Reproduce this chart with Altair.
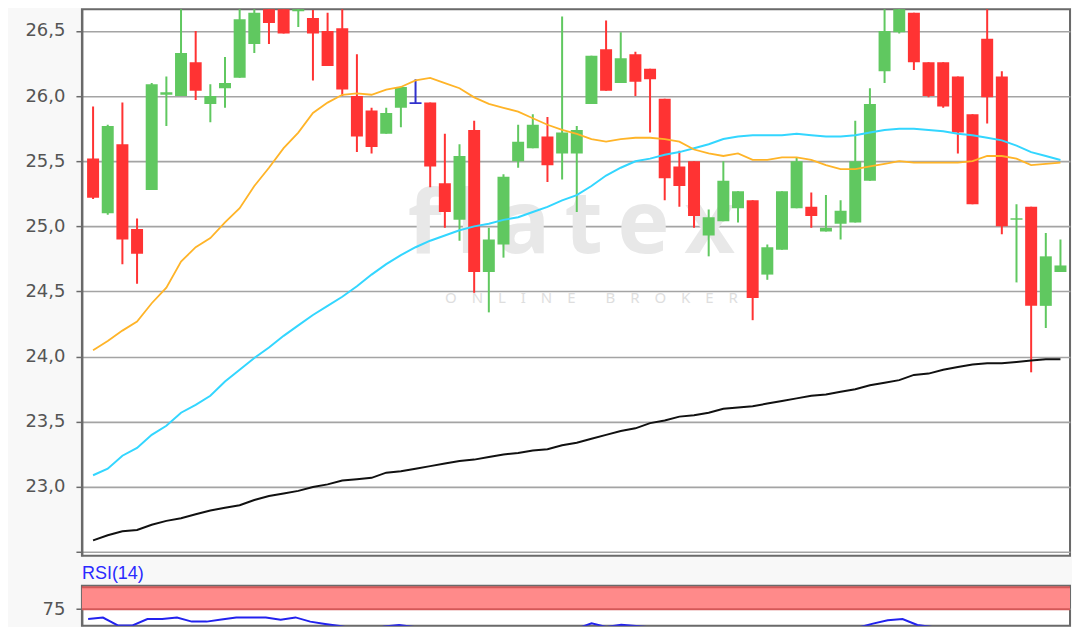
import altair as alt
import numpy as np
import pandas as pd

# ---------------- data ----------------
OPEN = [25.52, 25.10, 25.63, 24.98, 25.28, 26.01, 26.00, 26.26, 25.94, 26.06,
        26.14, 26.40, 26.78, 26.75, 26.65, 26.60, 26.50, 26.52, 26.00, 25.89,
        25.71, 25.91, 25.94, 25.95, 25.33, 25.05, 25.74, 24.65, 24.86, 25.50,
        25.60, 25.69, 25.56, 25.56, 25.94, 26.36, 26.10, 26.32, 26.21, 25.98,
        25.46, 25.50, 24.93, 25.04, 25.14, 25.20, 24.63, 24.82, 25.14, 25.15,
        24.96, 25.02, 25.03, 25.35, 26.19, 26.49, 26.64, 26.26, 26.26, 26.15,
        25.86, 26.44, 26.15, 25.05, 25.15, 24.39, 24.65]
HIGH = [25.92, 25.78, 25.95, 25.06, 26.10, 26.15, 26.80, 26.50, 26.09, 26.30,
        26.80, 26.78, 26.85, 26.80, 26.76, 26.66, 26.64, 26.76, 26.32, 25.91,
        25.91, 26.07, 26.13, 25.95, 25.71, 25.63, 25.81, 24.99, 25.40, 25.78,
        25.86, 25.84, 26.61, 25.77, 26.31, 26.58, 26.49, 26.34, 26.21, 25.98,
        25.58, 25.50, 25.13, 25.50, 25.27, 25.20, 24.86, 25.27, 25.53, 25.26,
        25.24, 25.20, 25.81, 26.06, 26.78, 26.76, 26.64, 26.26, 26.26, 26.15,
        25.86, 26.80, 26.19, 25.17, 25.15, 24.95, 24.90]
LOW = [25.21, 25.09, 24.71, 24.56, 25.28, 25.77, 26.00, 25.97, 25.80, 25.91,
       26.14, 26.33, 26.40, 26.48, 26.53, 26.12, 26.23, 26.00, 25.57, 25.56,
       25.71, 25.76, 25.94, 25.30, 24.99, 24.89, 24.49, 24.34, 24.76, 25.45,
       25.60, 25.34, 25.36, 25.11, 25.94, 26.04, 26.10, 26.00, 25.72, 25.20,
       25.15, 24.99, 24.77, 25.04, 25.03, 24.28, 24.59, 24.82, 25.14, 24.99,
       24.96, 24.90, 25.03, 25.35, 26.10, 26.48, 26.20, 25.99, 25.91, 25.56,
       25.17, 25.79, 24.94, 24.57, 23.88, 24.22, 24.65]
CLOSE = [25.22, 25.77, 24.90, 24.79, 26.09, 26.03, 26.33, 26.04, 26.00, 26.10,
         26.59, 26.64, 26.56, 26.48, 26.72, 26.48, 26.23, 26.05, 25.69, 25.61,
         25.87, 26.07, 25.94, 25.46, 25.11, 25.54, 24.65, 24.90, 25.38, 25.65,
         25.78, 25.47, 25.72, 25.74, 26.31, 26.04, 26.29, 26.11, 26.13, 25.37,
         25.31, 25.08, 25.07, 25.35, 25.27, 24.45, 24.84, 25.27, 25.50, 25.08,
         24.99, 25.12, 25.50, 25.94, 26.50, 26.71, 26.26, 26.00, 25.92, 25.72,
         25.17, 25.99, 25.00, 25.06, 24.39, 24.77, 24.70]
SMA20 = [24.05, 24.12, 24.20, 24.27, 24.41, 24.53, 24.73, 24.84, 24.91, 25.03,
         25.14, 25.31, 25.45, 25.60, 25.72, 25.87, 25.95, 26.01, 26.02, 26.01,
         26.05, 26.07, 26.12, 26.14, 26.10, 26.06, 25.99, 25.94, 25.91, 25.88,
         25.83, 25.78, 25.74, 25.71, 25.67, 25.65, 25.67, 25.68, 25.68, 25.67,
         25.65, 25.59, 25.56, 25.54, 25.56, 25.51, 25.51, 25.53, 25.53, 25.51,
         25.47, 25.44, 25.44, 25.46, 25.48, 25.50, 25.49, 25.49, 25.49, 25.49,
         25.50, 25.54, 25.54, 25.52, 25.47, 25.48, 25.49]
SMA50 = [23.09, 23.14, 23.24, 23.30, 23.40, 23.47, 23.57, 23.63, 23.70, 23.81,
         23.90, 23.99, 24.07, 24.16, 24.24, 24.32, 24.39, 24.46, 24.54, 24.63,
         24.71, 24.78, 24.84, 24.89, 24.93, 24.97, 25.00, 25.02, 25.05, 25.07,
         25.11, 25.15, 25.20, 25.24, 25.31, 25.39, 25.45, 25.50, 25.52, 25.55,
         25.57, 25.60, 25.63, 25.67, 25.69, 25.70, 25.70, 25.70, 25.71, 25.70,
         25.69, 25.69, 25.70, 25.72, 25.74, 25.75, 25.75, 25.74, 25.73, 25.71,
         25.70, 25.68, 25.66, 25.62, 25.57, 25.54, 25.51]
SMA200 = [22.59, 22.63, 22.66, 22.67, 22.71, 22.74, 22.76, 22.79, 22.82, 22.84,
          22.86, 22.90, 22.93, 22.95, 22.97, 23.00, 23.02, 23.05, 23.06, 23.07,
          23.11, 23.12, 23.14, 23.16, 23.18, 23.20, 23.21, 23.23, 23.25, 23.26,
          23.28, 23.29, 23.32, 23.34, 23.37, 23.40, 23.43, 23.45, 23.49, 23.51,
          23.54, 23.55, 23.57, 23.60, 23.61, 23.62, 23.64, 23.66, 23.68, 23.70,
          23.71, 23.73, 23.75, 23.78, 23.80, 23.82, 23.86, 23.87, 23.90, 23.92,
          23.94, 23.95, 23.95, 23.96, 23.97, 23.98, 23.98]
RSI14 = [63.9, 65.5, 56.6, 56.6, 63.9, 63.9, 65.5, 60.9, 60.9, 63.3,
         65.5, 65.5, 65.5, 63.1, 65.7, 60.9, 58.3, 55.9, 52.8, 51.2,
         55.4, 57.0, 54.9, 46.9, 43.8, 50.0, 42.2, 44.8, 48.0, 51.4,
         51.9, 51.5, 52.3, 52.8, 59.1, 54.8, 57.2, 56.0, 54.3, 46.1,
         45.6, 44.0, 44.5, 48.5, 45.3, 41.1, 46.4, 48.5, 49.8, 45.6,
         45.6, 49.3, 54.1, 58.6, 62.5, 63.9, 57.0, 54.9, 52.3, 49.9,
         46.4, 54.7, 44.5, 45.6, 41.4, 43.8, 43.8]
Y_TICKS = [22.5, 23.0, 23.5, 24.0, 24.5, 25.0, 25.5, 26.0, 26.5]
RSI_TICKS = [50, 75]
RSI_ZONE = [75, 100]
RSI_TITLE = "RSI(14)"
WATERMARK = ["\u2009".join("flatex")]
WATERMARK_SUB = ["\u2003".join("ONLINE") + "\u2003\u2003" + "\u2003".join("BROKER")]

# ---------------- styling ----------------
GREEN, RED, BLUE = "#60c860", "#ff3333", "#3030cc"
GRID = "#a4a4a4"
FRAME = "#6a6a6a"
LABEL_FONT = "DejaVu Sans"

n = len(OPEN)
df = pd.DataFrame({"i": np.arange(n), "open": OPEN, "high": HIGH,
                   "low": LOW, "close": CLOSE})
df["dir"] = np.where(df["close"] > df["open"], "up",
                     np.where(df["close"] < df["open"], "down", "flat"))
df["body_lo"] = df[["open", "close"]].min(axis=1)
df["body_hi"] = np.maximum(df[["open", "close"]].max(axis=1), df["body_lo"] + 0.012)

ma = pd.DataFrame({"i": np.arange(n), "sma20": SMA20, "sma50": SMA50, "sma200": SMA200})
rsi = pd.DataFrame({"i": np.arange(n), "rsi": RSI14})

W = 989
RSI_H = 40
PX_PER_RSI = 0.88
RSI_TOP = 101.7
xs = alt.Scale(domain=[-0.42, 66.31], nice=False, zero=False)
ys = alt.Scale(domain=[22.472, 26.666], nice=False, zero=False)
color = alt.Color("dir:N", legend=None,
                  scale=alt.Scale(domain=["up", "down", "flat"], range=[GREEN, RED, BLUE]))

yax = alt.Axis(values=Y_TICKS, title=None,
               labelExpr="datum.value < 22.9 ? '' : replace(format(datum.value, '.1f'), '.', ',')",
               grid=True, gridColor=GRID, gridWidth=1.6,
               tickColor=FRAME, tickSize=6, tickWidth=1.5,
               domainColor=FRAME, domainWidth=2,
               labelFont=LABEL_FONT, labelFontSize=18, labelColor="#555555",
               labelPadding=11)
X = alt.X("i:Q", scale=xs, axis=None)

wm = alt.Chart(pd.DataFrame({"t": WATERMARK})).mark_text(
    font="Noto Sans", fontWeight="bold", fontSize=88, color="#e8e8e8",
    align="center", baseline="middle"
).encode(text="t:N", x=alt.value(490), y=alt.value(218))
wm2 = alt.Chart(pd.DataFrame({"t": WATERMARK_SUB})).mark_text(
    font="Noto Sans", fontSize=15, color="#dedede", align="center", baseline="middle"
).encode(text="t:N", x=alt.value(510), y=alt.value(289))

wicks = alt.Chart(df).mark_rule(strokeWidth=2, clip=True).encode(
    x=X, y=alt.Y("low:Q", scale=ys, axis=yax), y2="high:Q", color=color)
bodies = alt.Chart(df).mark_bar(size=12, clip=True).encode(
    x=X, y=alt.Y("body_lo:Q", scale=ys, axis=yax), y2="body_hi:Q", color=color)

def ma_line(field, col, w=2):
    return alt.Chart(ma).mark_line(color=col, strokeWidth=w, clip=True).encode(
        x=X, y=alt.Y(f"{field}:Q", scale=ys, axis=yax))

price = alt.layer(
    wm, wm2, wicks, bodies,
    ma_line("sma200", "#111111"),
    ma_line("sma50", "#33d6ff"),
    ma_line("sma20", "#ffb428", 1.8),
).properties(width=W, height=547)

# ---------------- RSI panel ----------------
rys = alt.Scale(domain=[RSI_TOP - RSI_H / PX_PER_RSI, RSI_TOP], nice=False, zero=False)
ryax = alt.Axis(values=RSI_TICKS, title=None,
                labelExpr="datum.value == 75 ? '75' : ''",
                grid=True, gridColor=GRID, gridWidth=1.6,
                tickColor=FRAME, tickSize=6, tickWidth=1.5,
                domainColor=FRAME, domainWidth=2,
                labelFont=LABEL_FONT, labelFontSize=18, labelColor="#555555",
                labelPadding=11)
zone = pd.DataFrame({"lo": [RSI_ZONE[0]], "hi": [RSI_ZONE[1]]})
zone_edges = pd.DataFrame({"v": RSI_ZONE})

band = alt.Chart(zone).mark_rect(color="#ff8a8a").encode(
    x=alt.value(0), x2=alt.value(W),
    y=alt.Y("lo:Q", scale=rys, axis=ryax), y2="hi:Q")
edges = alt.Chart(zone_edges).mark_rule(color="#d45858", strokeWidth=2).encode(
    y=alt.Y("v:Q", scale=rys, axis=ryax))
rsi_line = alt.Chart(rsi).mark_line(color="#2222ee", strokeWidth=2, clip=True).encode(
    x=X, y=alt.Y("rsi:Q", scale=rys, axis=ryax))

rsi_panel = alt.layer(band, edges, rsi_line).properties(
    width=W, height=RSI_H,
    title=alt.TitleParams(RSI_TITLE, anchor="start", frame="group", color="#2a2aff",
                          font="Liberation Sans", fontSize=18, fontWeight="normal",
                          offset=3))

chart = alt.vconcat(price, rsi_panel, spacing=30, bounds="flush").properties(
    padding={"left": 15, "top": 0, "right": 0, "bottom": 0},
    background="#f8f8f8",
).configure_view(stroke=FRAME, strokeWidth=2, fill="white")

chart.save("out.html", embed_options={"renderer": "svg", "actions": False})
